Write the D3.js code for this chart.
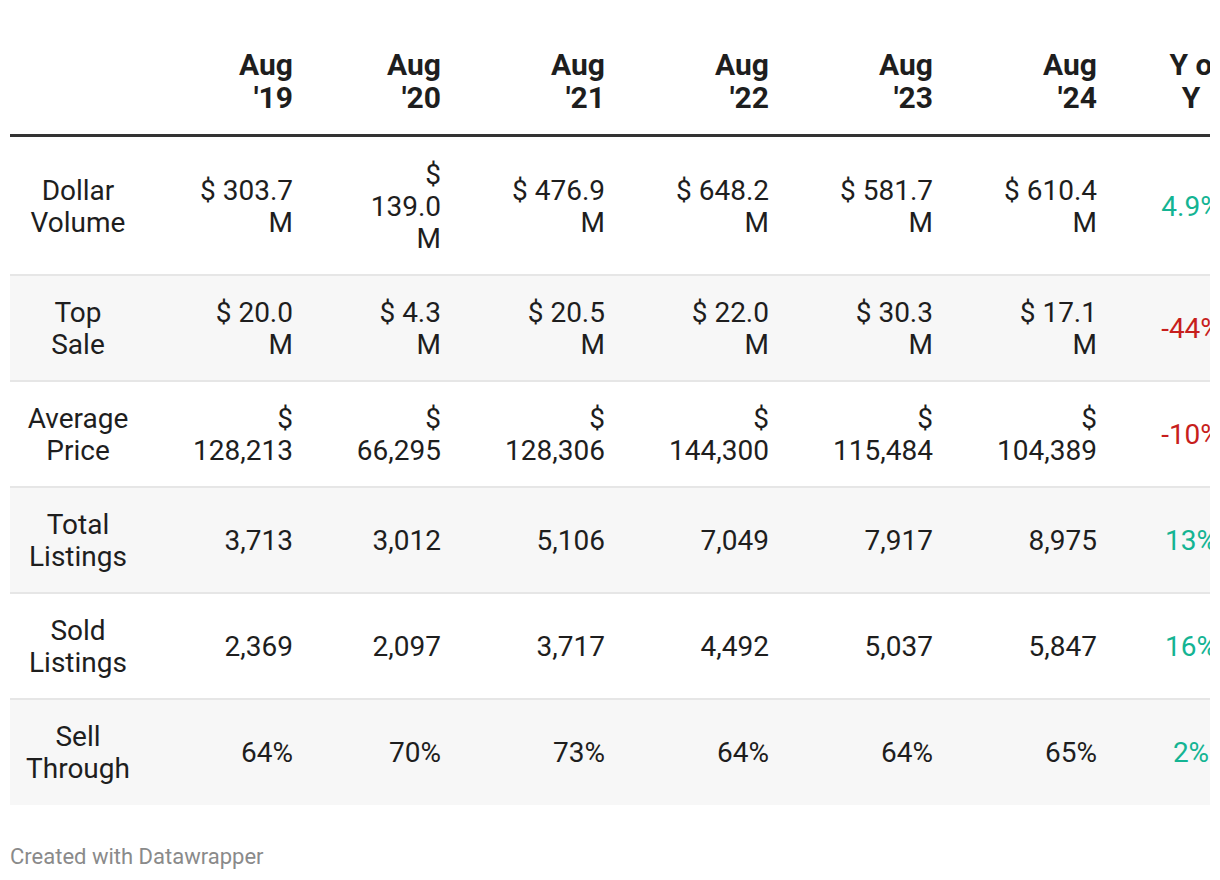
<!DOCTYPE html>
<html>
<head>
<meta charset="utf-8">
<script src="https://cdn.jsdelivr.net/npm/d3@7"></script>
<style>
  html, body { margin: 0; padding: 0; background: #fff; }
  svg { display: block; font-family: Roboto, "Noto Sans", sans-serif; }
</style>
</head>
<body>
<svg id="chart" width="1220" height="880"></svg>
<script>
// ---- data ----
const columns = ["Aug\n'19", "Aug\n'20", "Aug\n'21", "Aug\n'22", "Aug\n'23", "Aug\n'24"];
const yoyHeader = "Y o\nY";
const rowLabels = ["Dollar\nVolume", "Top\nSale", "Average\nPrice", "Total\nListings", "Sold\nListings", "Sell\nThrough"];
const dollarVolume = ["$ 303.7 M", "$ 139.0 M", "$ 476.9 M", "$ 648.2 M", "$ 581.7 M", "$ 610.4 M"];
const topSale = ["$ 20.0 M", "$ 4.3 M", "$ 20.5 M", "$ 22.0 M", "$ 30.3 M", "$ 17.1 M"];
const averagePrice = ["$ 128,213", "$ 66,295", "$ 128,306", "$ 144,300", "$ 115,484", "$ 104,389"];
const totalListings = [3713, 3012, 5106, 7049, 7917, 8975];
const soldListings = [2369, 2097, 3717, 4492, 5037, 5847];
const sellThrough = ["64%", "70%", "73%", "64%", "64%", "65%"];
const yoy = ["4.9%", "-44%", "-10%", "13%", "16%", "2%"];
const footer = "Created with Datawrapper";

const fmt = d3.format(",");
const rows = [
  { label: rowLabels[0], values: dollarVolume, yoy: yoy[0] },
  { label: rowLabels[1], values: topSale, yoy: yoy[1] },
  { label: rowLabels[2], values: averagePrice, yoy: yoy[2] },
  { label: rowLabels[3], values: totalListings.map(fmt), yoy: yoy[3] },
  { label: rowLabels[4], values: soldListings.map(fmt), yoy: yoy[4] },
  { label: rowLabels[5], values: sellThrough, yoy: yoy[5] }
];

// ---- layout ----
const W = 1220, H = 880;
const tableLeft = 10, tableRight = 1210;
const pad = 10;
const colKeys = ["label", ...columns.map((c, i) => "c" + i), "yoy"];
const colWidths = [136, 157, 148, 164, 164, 164, 164, 168];
const wrapWidths = [101, 88, 101, 101, 101, 101];
const colStart = d3.scaleOrdinal().domain(colKeys)
  .range(colWidths.map((w, i) => tableLeft + d3.sum(colWidths.slice(0, i))));
const colWidth = d3.scaleOrdinal().domain(colKeys).range(colWidths);

const bodySize = 28, bodyLH = 32, cellPadV = 21;
const headSize = 30, headLH = 33;
const headerBorderY = 135.5;

const green = "#14b493", red = "#c71e1d", textCol = "#1e1e1e";

const svg = d3.select("#chart");
svg.append("rect").attr("width", W).attr("height", H).attr("fill", "#fff");

svg.append("defs").append("clipPath").attr("id", "clip")
  .append("rect").attr("x", tableLeft).attr("y", 0).attr("width", tableRight - tableLeft).attr("height", H);

const table = svg.append("g").attr("clip-path", "url(#clip)");

// measurement helper
const measure = svg.append("text").attr("font-size", bodySize).attr("visibility", "hidden");
function textWidth(s) { measure.text(s); return measure.node().getComputedTextLength(); }
function wrap(str, maxW) {
  const words = str.split(" ");
  const lines = [];
  let cur = "";
  words.forEach(w => {
    const t = cur ? cur + " " + w : w;
    if (cur && textWidth(t) > maxW) { lines.push(cur); cur = w; }
    else cur = t;
  });
  if (cur) lines.push(cur);
  return lines;
}

// wrap all cells
rows.forEach(r => {
  r.labelLines = r.label.split("\n");
  r.valueLines = r.values.map((v, i) => wrap(v, wrapWidths[i]));
  r.yoyLines = [r.yoy];
  r.nLines = Math.max(r.labelLines.length, ...r.valueLines.map(l => l.length));
  r.height = r.nLines * bodyLH + 2 * cellPadV;
});
measure.remove();

// row positions
let yCursor = headerBorderY + 1.5;
rows.forEach(r => { r.top = yCursor; yCursor += r.height; });
const yRow = d3.scaleOrdinal().domain(d3.range(rows.length)).range(rows.map(r => r.top));

// backgrounds
table.selectAll("rect.rowbg").data(rows).join("rect")
  .attr("class", "rowbg")
  .attr("x", tableLeft).attr("width", 1300)
  .attr("y", (d, i) => yRow(i)).attr("height", d => d.height)
  .attr("fill", (d, i) => i % 2 === 1 ? "#f7f7f7" : "#ffffff");

// separators
table.selectAll("line.sep").data(rows.slice(1)).join("line")
  .attr("class", "sep")
  .attr("x1", tableLeft).attr("x2", 1300)
  .attr("y1", (d, i) => yRow(i + 1)).attr("y2", (d, i) => yRow(i + 1))
  .attr("stroke", "#e6e6e6").attr("stroke-width", 2);

// header border
table.append("line")
  .attr("x1", tableLeft).attr("x2", 1300)
  .attr("y1", headerBorderY).attr("y2", headerBorderY)
  .attr("stroke", "#333").attr("stroke-width", 3);

// helper to draw multi-line text centered vertically around cy
function drawLines(g, lines, x, cy, anchor, size, lh, weight, fill) {
  const n = lines.length;
  const asc = 0.928 * size, desc = 0.244 * size;
  const halfLead = (lh - (asc + desc)) / 2;
  const top0 = cy - n * lh / 2;
  const t = g.append("text")
    .attr("text-anchor", anchor)
    .attr("font-size", size)
    .attr("font-weight", weight)
    .attr("fill", fill);
  lines.forEach((ln, i) => {
    t.append("tspan").attr("x", x).attr("y", top0 + i * lh + halfLead + asc).text(ln);
  });
}

// header
const headBottom = headerBorderY - 1.5 - 20;
const headG = table.append("g");
columns.forEach((c, i) => {
  const key = "c" + i;
  const lines = c.split("\n");
  drawLines(headG, lines, colStart(key) + colWidth(key) - pad, headBottom - lines.length * headLH / 2,
    "end", headSize, headLH, 700, textCol);
});
{
  const lines = yoyHeader.split("\n");
  drawLines(headG, lines, colStart("yoy") + colWidth("yoy") / 2, headBottom - lines.length * headLH / 2,
    "middle", headSize, headLH, 700, textCol);
}

// body
const bodyG = table.append("g");
rows.forEach((r, ri) => {
  const cy = yRow(ri) + r.height / 2;
  drawLines(bodyG, r.labelLines, colStart("label") + colWidth("label") / 2, cy, "middle", bodySize, bodyLH, 400, textCol);
  r.valueLines.forEach((lines, ci) => {
    const key = "c" + ci;
    drawLines(bodyG, lines, colStart(key) + colWidth(key) - pad, cy, "end", bodySize, bodyLH, 400, textCol);
  });
  drawLines(bodyG, r.yoyLines, colStart("yoy") + colWidth("yoy") / 2, cy, "middle", bodySize, bodyLH, 400,
    r.yoy.trim().startsWith("-") ? red : green);
});

// footer
svg.append("text")
  .attr("x", tableLeft).attr("y", 864)
  .attr("font-size", 22).attr("fill", "#8a8a8a")
  .text(footer);
</script>
</body>
</html>
